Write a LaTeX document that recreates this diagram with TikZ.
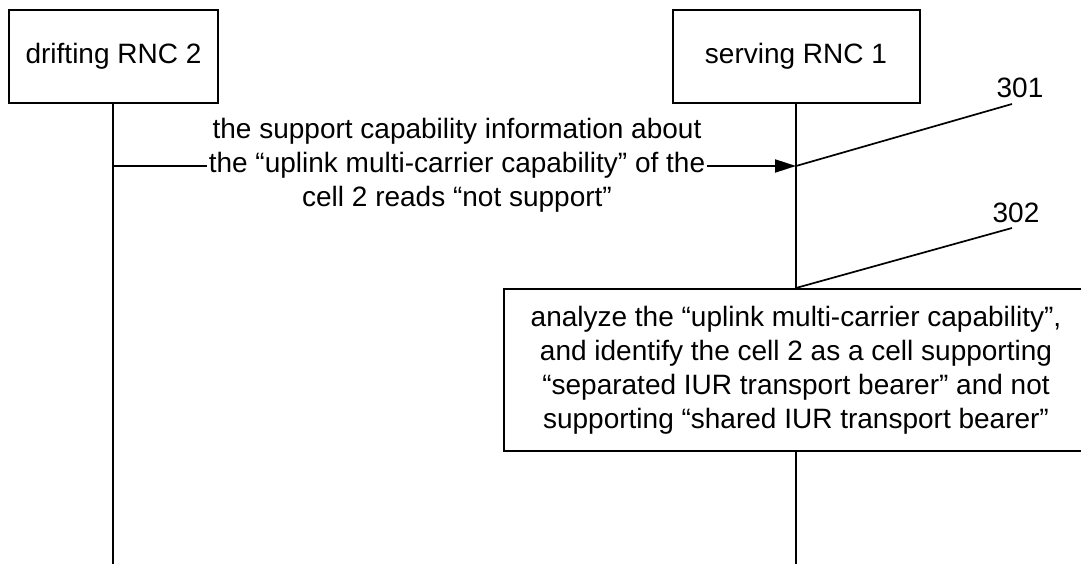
\documentclass[tikz,border=0pt]{standalone}
\usepackage{fontspec}
\setmainfont{Liberation Sans}
\usetikzlibrary{arrows.meta}
\begin{document}
\begin{tikzpicture}[x=1pt,y=-1pt,line width=2pt,
  txt/.style={font=\fontsize{28}{34}\selectfont},
  actor/.style={txt,draw,minimum height=93pt,inner sep=0pt},
  lbl/.style={txt,align=center,inner xsep=1pt,inner ysep=0pt},
  lead/.style={line width=1.7pt},
  msgarrow/.style={-{Triangle[length=21pt,width=13pt]}}]
\useasboundingbox (0,0) rectangle (1081,564);
% actors
\node[actor,minimum width=209pt] (drnc) at (113.5,56.5) {drifting RNC 2};
\node[actor,minimum width=247pt] (srnc) at (796,56.5) {serving RNC 1};
\coordinate (dend) at (113,564);
\coordinate (send) at (796,564);
% analysis box
\node[txt,draw,fill=white,align=center,minimum width=584pt,minimum height=162pt,inner sep=0pt] (ana) at (796,370)
  {analyze the “uplink multi-carrier capability”,\\
   and identify the cell 2 as a cell supporting\\
   “separated IUR transport bearer” and not\\
   supporting “shared IUR transport bearer”};
% lifelines
\draw (drnc.south -| dend) -- (dend);
\draw (srnc.south -| send) -- (ana.north -| send);
\draw (ana.south -| send) -- (send);
% message
\coordinate (m1s) at (113,166);
\coordinate (m1) at (796,166);
\node[lbl] (msg) at (457,165)
  {the support capability information about\\
   the “uplink multi-carrier capability” of the\\
   cell 2 reads “not support”};
\draw (m1s) -- (msg.west |- m1s);
\draw[msgarrow] (msg.east |- m1) -- (m1);
% step labels
\node[txt,inner sep=0pt] (n301) at (1020,88) {301};
\coordinate (l301) at (1012,104);
\draw[lead] (m1) -- (l301);
\node[txt,inner sep=0pt] (n302) at (1016,213) {302};
\coordinate (l302) at (1012,228);
\draw[lead] (ana.north) -- (l302);
\end{tikzpicture}
\end{document}
